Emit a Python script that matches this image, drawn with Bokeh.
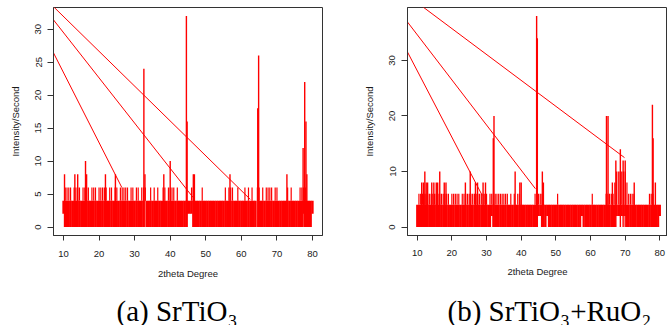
from bokeh.plotting import figure
from bokeh.layouts import row, column
from bokeh.models import FixedTicker, Range1d
from bokeh.core.properties import value
from bokeh.embed import file_html
from bokeh.resources import INLINE

RED = "#ff0000"
INK = "#1a1a1a"

x_ticks = [10, 20, 30, 40, 50, 60, 70, 80]
a_y_ticks = [0, 5, 10, 15, 20, 25, 30]
b_y_ticks = [0, 10, 20, 30]

x_label = "2theta Degree"
y_label = "Intensity/Second"
captions = ["(a) SrTiO\u2083", "(b) SrTiO\u2083+RuO\u2082"]

# scan read in 0.5 degree bins, 10.0 .. 80.0: upper / lower level of the dense noise band
bin_start = 10.0
bin_step = 0.5
band_level = 4   # the noise is solid up to this level

a_top = [4, 6, 6, 6, 6, 4, 6, 6, 6, 6,
         4, 6, 6, 6, 6, 4, 6, 6, 6, 4,
         6, 6, 6, 6, 6, 4, 6, 6, 4, 6,
         6, 4, 6, 6, 6, 6, 6, 4, 6, 6,
         4, 6, 6, 4, 6, 6, 6, 4, 4, 6,
         4, 6, 4, 6, 4, 4, 6, 6, 4, 6,
         6, 6, 6, 4, 6, 4, 4, 4, 4, 4,
         4, 4, 6, 6, 4, 4, 4, 4, 6, 4,
         4, 4, 4, 4, 4, 4, 4, 4, 4, 4,
         4, 6, 4, 6, 6, 6, 4, 4, 6, 4,
         4, 4, 6, 4, 6, 4, 6, 4, 4, 6,
         6, 4, 6, 4, 6, 6, 6, 6, 4, 6,
         6, 4, 4, 4, 4, 4, 6, 4, 6, 4,
         4, 4, 4, 6, 6, 6, 6, 4, 4, 4,
         4]
a_bot = [2, 0, 0, 0, 0, 0, 0, 0, 0, 0,
         0, 0, 0, 0, 0, 0, 0, 0, 0, 0,
         0, 0, 0, 0, 0, 0, 0, 0, 0, 0,
         0, 0, 0, 0, 0, 0, 0, 0, 0, 0,
         0, 0, 0, 0, 0, 0, 4, 0, 0, 0,
         0, 0, 0, 0, 0, 0, 0, 0, 0, 0,
         0, 0, 0, 0, 0, 0, 0, 0, 0, 0,
         2, 2, 2, 0, 0, 0, 0, 0, 0, 0,
         0, 0, 0, 0, 0, 0, 0, 0, 0, 0,
         0, 0, 0, 0, 0, 0, 0, 0, 0, 0,
         0, 0, 0, 0, 0, 0, 0, 0, 0, 4,
         0, 0, 0, 0, 0, 0, 0, 0, 0, 0,
         0, 0, 0, 0, 0, 0, 0, 0, 0, 0,
         0, 0, 0, 0, 0, 2, 0, 0, 0, 0,
         2]
a_spike_x = [10.3, 13.2, 14.0, 16.2, 16.5, 21.8, 24.6, 32.6, 32.9, 38.2, 40.0,
             44.55, 44.75, 46.5, 46.8, 56.8, 64.6, 64.85, 72.8, 77.35, 77.8, 78.15, 78.4]
a_spike_y = [8, 8, 8, 10, 8, 8, 8, 24, 8, 8, 10,
             32, 16, 8, 8, 8, 18, 26, 8, 12, 22, 16, 8]
a_wrap_x0 = [7.2, 7.2, 7.2]
a_wrap_y0 = [33.4, 31.4, 26.4]
a_wrap_x1 = [62.5, 46.4, 26.4]
a_wrap_y1 = [4.2, 4.5, 6.0]

b_top = [4, 6, 6, 6, 6, 6, 6, 6, 6, 6,
         6, 6, 6, 6, 6, 6, 6, 6, 6, 4,
         6, 6, 6, 6, 6, 4, 6, 6, 6, 6,
         6, 6, 6, 6, 6, 6, 6, 6, 6, 6,
         6, 4, 6, 6, 6, 6, 6, 6, 6, 6,
         6, 6, 6, 4, 6, 4, 6, 4, 6, 6,
         4, 4, 4, 4, 4, 4, 4, 4, 6, 6,
         6, 6, 6, 4, 4, 4, 4, 4, 4, 4,
         4, 6, 4, 4, 4, 4, 4, 4, 4, 4,
         4, 4, 4, 4, 4, 4, 4, 4, 4, 4,
         4, 6, 4, 4, 4, 4, 4, 4, 4, 6,
         6, 6, 6, 6, 8, 10, 10, 10, 10, 10,
         10, 8, 6, 6, 6, 6, 4, 4, 4, 4,
         4, 4, 4, 4, 6, 6, 6, 4, 4, 4,
         4]
b_bot = [0, 0, 0, 0, 0, 0, 0, 0, 0, 0,
         0, 0, 0, 0, 0, 0, 0, 0, 0, 0,
         0, 0, 0, 0, 0, 0, 0, 0, 0, 0,
         0, 0, 0, 0, 0, 0, 0, 0, 0, 0,
         0, 0, 0, 2, 0, 0, 0, 0, 0, 0,
         0, 0, 0, 0, 0, 0, 0, 0, 0, 0,
         0, 0, 0, 0, 0, 0, 0, 0, 0, 0,
         2, 2, 0, 0, 0, 2, 0, 0, 0, 0,
         0, 0, 0, 0, 0, 0, 0, 0, 0, 0,
         0, 0, 0, 0, 0, 2, 0, 0, 0, 0,
         0, 0, 0, 0, 0, 0, 0, 0, 0, 0,
         0, 0, 0, 0, 0, 2, 2, 2, 2, 2,
         2, 0, 0, 0, 0, 0, 0, 0, 0, 0,
         0, 0, 0, 0, 0, 0, 0, 0, 0, 0,
         2]
b_spike_x = [11.3, 11.8, 12.2, 12.6, 13.0, 14.2, 14.8, 15.5, 15.9, 16.5, 17.8, 18.3,
             23.9, 25.3, 26.8, 27.4, 29.0, 29.7, 31.95, 32.15, 38.25, 39.6, 40.0,
             44.45, 44.65, 46.1, 46.4, 64.6, 65.05, 66.3, 67.3, 68.6, 69.4, 70.0,
             72.6, 77.85, 78.05, 78.7]
b_spike_y = [8, 8, 10, 8, 8, 8, 8, 8, 8, 10, 8, 8,
             8, 10, 8, 8, 8, 8, 16, 20, 10, 8, 8,
             38, 34, 10, 8, 20, 20, 8, 12, 14, 12, 12,
             8, 22, 16, 8]
b_wrap_x0 = [7.2, 7.2, 11.7]
b_wrap_y0 = [31.5, 36.9, 39.6]
b_wrap_x1 = [28.75, 44.1, 69.8]
b_wrap_y1 = [5.7, 6.9, 12.5]

PANEL_H = 292
CAP_H = 33


def panel(width, xr, yr, yticks, top, bot, sx, sy, wx0, wy0, wx1, wy1,
          border, xt_standoff, xl_standoff):
    p = figure(width=width, height=PANEL_H, output_backend="svg", toolbar_location=None,
               title=None, x_range=Range1d(*xr), y_range=Range1d(*yr),
               min_border_left=border[0], min_border_right=border[1],
               min_border_top=border[2], min_border_bottom=border[3])
    p.background_fill_color = "white"
    p.border_fill_color = "white"
    p.outline_line_color = "#333333"
    p.outline_line_width = 1
    p.grid.visible = False

    centers = [bin_start + i * bin_step for i in range(len(top))]
    # dense part of the trace: solid from the lower level up to the band level
    core_top = [min(t, band_level) for t in top]
    p.vbar(x=centers, bottom=bot, top=core_top, width=bin_step * 1.25,
           fill_color=RED, line_color=None)
    # excursions of the trace above the band level
    ex = [(c, t) for c, t in zip(centers, top) if t > band_level]
    p.segment(x0=[e[0] for e in ex], y0=[band_level] * len(ex),
              x1=[e[0] for e in ex], y1=[e[1] for e in ex],
              line_color=RED, line_width=1.2)
    p.segment(x0=sx, y0=[0] * len(sx), x1=sx, y1=sy, line_color=RED, line_width=1.4)
    p.segment(x0=wx0, y0=wy0, x1=wx1, y1=wy1, line_color=RED, line_width=1)

    for ax in (p.xaxis[0], p.yaxis[0]):
        ax.axis_line_color = "#333333"
        ax.major_tick_line_color = "#333333"
        ax.minor_tick_line_color = None
        ax.major_tick_in = 0
        ax.major_label_text_font = "Liberation Sans"
        ax.major_label_text_font_size = "9.5px"
        ax.major_label_text_color = INK
        ax.axis_label_text_font = "Liberation Sans"
        ax.axis_label_text_font_size = "9.5px"
        ax.axis_label_text_font_style = "normal"
        ax.axis_label_text_color = INK

    p.xaxis.ticker = FixedTicker(ticks=x_ticks)
    p.xaxis.axis_label = x_label
    p.xaxis.major_tick_out = 5
    p.xaxis.major_label_standoff = xt_standoff
    p.xaxis.axis_label_standoff = xl_standoff

    p.yaxis.ticker = FixedTicker(ticks=yticks)
    p.yaxis.axis_label = y_label
    p.yaxis.major_tick_out = 6
    p.yaxis.major_label_standoff = 6
    p.yaxis.axis_label_standoff = 12
    p.yaxis.major_label_orientation = "vertical"
    return p


pa = panel(340, (7.2, 82.8), (-1.28, 33.28), a_y_ticks, a_top, a_bot, a_spike_x, a_spike_y,
           a_wrap_x0, a_wrap_y0, a_wrap_x1, a_wrap_y1,
           (53, 18, 7, PANEL_H - 241), 10, 8)
pb = panel(327, (7.2, 82.2), (-1.52, 39.52), b_y_ticks, b_top, b_bot, b_spike_x, b_spike_y,
           b_wrap_x0, b_wrap_y0, b_wrap_x1, b_wrap_y1,
           (67, 0, 7, PANEL_H - 235), 9, 7)

# caption strip: a pixel-unit canvas below the two panels
cap = figure(width=667, height=CAP_H, output_backend="svg", toolbar_location=None,
             title=None, x_range=Range1d(0, 667), y_range=Range1d(0, CAP_H),
             x_axis_location=None, y_axis_location=None,
             min_border_left=0, min_border_right=0, min_border_top=0, min_border_bottom=0)
cap.outline_line_color = None
cap.grid.visible = False
cap.background_fill_color = "white"
cap.border_fill_color = "white"
caption_left = [116, 447]
caption_baseline = [15, 15]
cap.text(x=caption_left, y=caption_baseline, text=captions,
         text_font=value("Liberation Serif"), text_font_size="29px",
         text_color="black", text_align="left", text_baseline="alphabetic")

layout = column(row(pa, pb), cap)
open("out.html", "w").write(file_html(layout, INLINE))
